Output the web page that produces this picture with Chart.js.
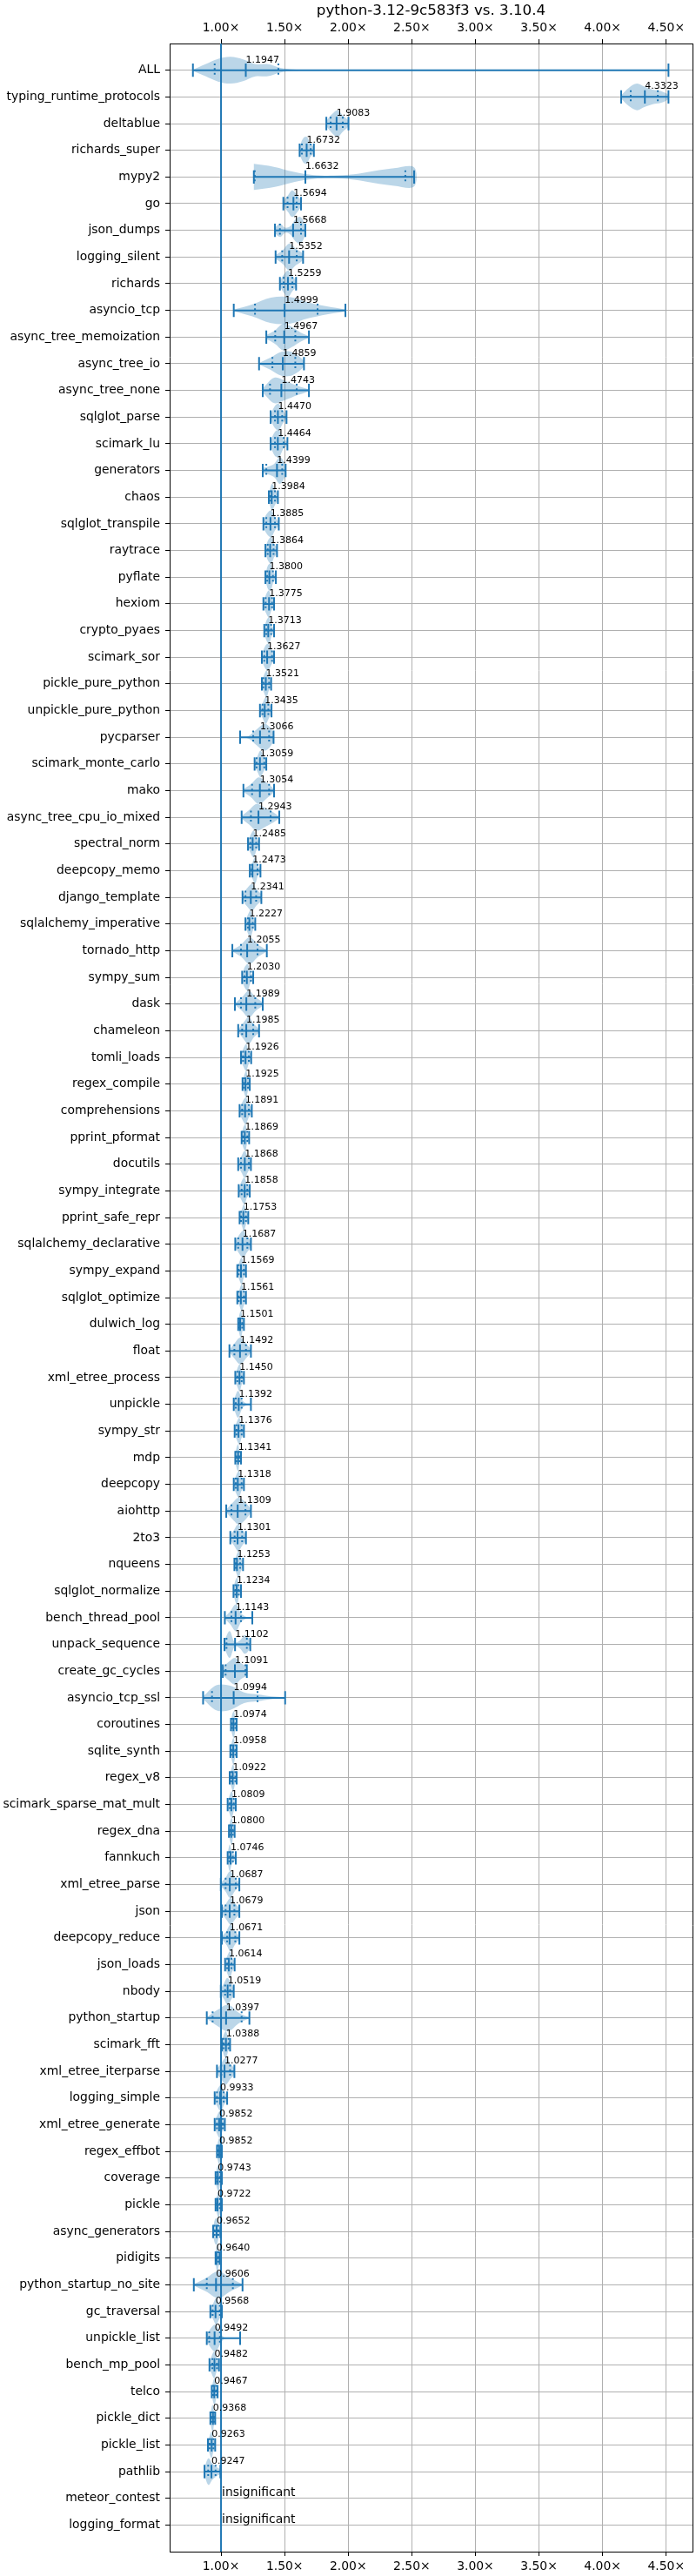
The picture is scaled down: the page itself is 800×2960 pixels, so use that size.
<!DOCTYPE html>
<html>
<head>
<meta charset="utf-8">
<script src="https://cdn.jsdelivr.net/npm/chart.js@4.4.1/dist/chart.umd.min.js"></script>
<style>
html, body { margin: 0; padding: 0; background: #fff; }
#wrap { width: 800px; height: 2960px; }
</style>
</head>
<body>
<div id="wrap"><canvas id="myChart" width="800" height="2960"></canvas></div>
<script>
var chartTitle = "python-3.12-9c583f3 vs. 3.10.4";
var insignificantLabel = "insignificant";
var xTickValues = [1.0, 1.5, 2.0, 2.5, 3.0, 3.5, 4.0, 4.5];
var xMin = 0.596, xMax = 4.707;

var benchNames = [
	"ALL", "typing_runtime_protocols", "deltablue", "richards_super", "mypy2", "go", "json_dumps",
	"logging_silent", "richards", "asyncio_tcp", "async_tree_memoization", "async_tree_io",
	"async_tree_none", "sqlglot_parse", "scimark_lu", "generators", "chaos", "sqlglot_transpile",
	"raytrace", "pyflate", "hexiom", "crypto_pyaes", "scimark_sor", "pickle_pure_python",
	"unpickle_pure_python", "pycparser", "scimark_monte_carlo", "mako", "async_tree_cpu_io_mixed",
	"spectral_norm", "deepcopy_memo", "django_template", "sqlalchemy_imperative", "tornado_http",
	"sympy_sum", "dask", "chameleon", "tomli_loads", "regex_compile", "comprehensions",
	"pprint_pformat", "docutils", "sympy_integrate", "pprint_safe_repr", "sqlalchemy_declarative",
	"sympy_expand", "sqlglot_optimize", "dulwich_log", "float", "xml_etree_process", "unpickle",
	"sympy_str", "mdp", "deepcopy", "aiohttp", "2to3", "nqueens", "sqlglot_normalize",
	"bench_thread_pool", "unpack_sequence", "create_gc_cycles", "asyncio_tcp_ssl", "coroutines",
	"sqlite_synth", "regex_v8", "scimark_sparse_mat_mult", "regex_dna", "fannkuch",
	"xml_etree_parse", "json", "deepcopy_reduce", "json_loads", "nbody", "python_startup",
	"scimark_fft", "xml_etree_iterparse", "logging_simple", "xml_etree_generate", "regex_effbot",
	"coverage", "pickle", "async_generators", "pidigits", "python_startup_no_site", "gc_traversal",
	"unpickle_list", "bench_mp_pool", "telco", "pickle_dict", "pickle_list", "pathlib",
	"meteor_contest", "logging_format"
];

var meanRatio = [
	1.1947, 4.3323, 1.9083, 1.6732, 1.6632, 1.5694, 1.5668, 1.5352, 1.5259, 1.4999,
	1.4967, 1.4859, 1.4743, 1.4470, 1.4464, 1.4399, 1.3984, 1.3885, 1.3864, 1.3800,
	1.3775, 1.3713, 1.3627, 1.3521, 1.3435, 1.3066, 1.3059, 1.3054, 1.2943, 1.2485,
	1.2473, 1.2341, 1.2227, 1.2055, 1.2030, 1.1989, 1.1985, 1.1926, 1.1925, 1.1891,
	1.1869, 1.1868, 1.1858, 1.1753, 1.1687, 1.1569, 1.1561, 1.1501, 1.1492, 1.1450,
	1.1392, 1.1376, 1.1341, 1.1318, 1.1309, 1.1301, 1.1253, 1.1234, 1.1143, 1.1102,
	1.1091, 1.0994, 1.0974, 1.0958, 1.0922, 1.0809, 1.0800, 1.0746, 1.0687, 1.0679,
	1.0671, 1.0614, 1.0519, 1.0397, 1.0388, 1.0277, 0.9933, 0.9852, 0.9852, 0.9743,
	0.9722, 0.9652, 0.9640, 0.9606, 0.9568, 0.9492, 0.9482, 0.9467, 0.9368, 0.9263,
	0.9247, null, null
];

var minRatio = [
	0.779, 4.146, 1.828, 1.618, 1.258, 1.490, 1.424, 1.429, 1.463, 1.100,
	1.356, 1.299, 1.328, 1.390, 1.390, 1.328, 1.376, 1.333, 1.349, 1.349,
	1.333, 1.340, 1.321, 1.321, 1.306, 1.150, 1.264, 1.176, 1.162, 1.212,
	1.226, 1.169, 1.192, 1.089, 1.166, 1.109, 1.135, 1.157, 1.169, 1.146,
	1.162, 1.135, 1.139, 1.146, 1.112, 1.128, 1.128, 1.135, 1.066, 1.112,
	1.100, 1.107, 1.112, 1.100, 1.041, 1.073, 1.105, 1.098, 1.030, 1.027,
	1.014, 0.859, 1.078, 1.073, 1.068, 1.052, 1.062, 1.052, 0.998, 1.007,
	1.007, 1.032, 0.998, 0.888, 1.007, 0.968, 0.950, 0.950, 0.968, 0.957,
	0.957, 0.938, 0.957, 0.786, 0.916, 0.888, 0.909, 0.927, 0.916, 0.897,
	0.870, null, null
];

var q1Ratio = [
	0.950, 4.221, 1.862, 1.636, 1.265, 1.523, 1.463, 1.481, 1.492, 1.267,
	1.426, 1.404, 1.385, 1.424, 1.424, 1.356, 1.390, 1.356, 1.367, 1.363,
	1.351, 1.356, 1.340, 1.333, 1.326, 1.253, 1.280, 1.244, 1.235, 1.230,
	1.242, 1.192, 1.212, 1.157, 1.185, 1.157, 1.166, 1.173, 1.180, 1.166,
	1.173, 1.157, 1.162, 1.157, 1.135, 1.139, 1.139, 1.144, 1.105, 1.128,
	1.116, 1.121, 1.121, 1.116, 1.082, 1.107, 1.116, 1.112, 1.082, 1.043,
	1.036, 0.929, 1.087, 1.082, 1.082, 1.068, 1.071, 1.064, 1.036, 1.036,
	1.048, 1.048, 1.032, 0.934, 1.021, 1.002, 0.968, 0.968, 0.975, 0.968,
	0.968, 0.950, 0.961, 0.888, 0.934, 0.907, 0.932, 0.938, 0.925, 0.910,
	0.899, null, null
];

var q3Ratio = [
	1.451, 4.434, 1.957, 1.705, 2.449, 1.594, 1.629, 1.595, 1.561, 1.759,
	1.584, 1.584, 1.595, 1.481, 1.492, 1.481, 1.424, 1.424, 1.413, 1.408,
	1.401, 1.394, 1.401, 1.378, 1.372, 1.378, 1.340, 1.378, 1.390, 1.276,
	1.287, 1.276, 1.249, 1.287, 1.235, 1.269, 1.253, 1.219, 1.212, 1.219,
	1.207, 1.219, 1.207, 1.196, 1.207, 1.180, 1.180, 1.166, 1.196, 1.162,
	1.162, 1.162, 1.144, 1.162, 1.192, 1.166, 1.150, 1.139, 1.157, 1.203,
	1.192, 1.287, 1.112, 1.112, 1.112, 1.100, 1.093, 1.093, 1.116, 1.105,
	1.112, 1.082, 1.071, 1.162, 1.059, 1.071, 1.021, 1.014, 0.998, 0.991,
	0.991, 0.979, 0.979, 1.093, 0.991, 0.991, 0.968, 0.961, 0.945, 0.940,
	0.957, null, null
];

var maxRatio = [
	4.518, 4.518, 2.002, 1.730, 2.518, 1.629, 1.663, 1.645, 1.590, 1.978,
	1.691, 1.652, 1.691, 1.515, 1.522, 1.508, 1.447, 1.454, 1.440, 1.431,
	1.417, 1.417, 1.417, 1.394, 1.397, 1.413, 1.356, 1.417, 1.458, 1.299,
	1.310, 1.317, 1.269, 1.360, 1.253, 1.328, 1.299, 1.237, 1.226, 1.242,
	1.221, 1.235, 1.226, 1.214, 1.235, 1.196, 1.196, 1.180, 1.235, 1.180,
	1.235, 1.180, 1.157, 1.180, 1.235, 1.196, 1.173, 1.157, 1.246, 1.230,
	1.203, 1.504, 1.123, 1.123, 1.123, 1.116, 1.107, 1.116, 1.144, 1.144,
	1.144, 1.107, 1.100, 1.223, 1.071, 1.105, 1.048, 1.030, 1.007, 1.007,
	1.007, 0.995, 0.989, 1.169, 1.007, 1.150, 0.984, 0.973, 0.954, 0.954,
	0.995, null, null
];

// relative violin width, sampled evenly from min to max of each benchmark
var density = [
	[0.03, 0.45, 0.85, 1.0, 0.82, 0.46, 0.45, 0.17, 0.06, 0.04,
	 0.03, 0.025, 0.025, 0.02, 0.02, 0.02, 0.02, 0.02, 0.02, 0.02,
	 0.02, 0.015, 0.015, 0.015, 0.015, 0.015, 0.015, 0.015, 0.015, 0.015,
	 0.015, 0.015, 0.015, 0.015, 0.015, 0.02, 0.02, 0.015, 0.01],
	[0.12, 0.7, 1.0, 0.75, 0.55, 0.45, 0.15],
	[0.2, 0.7, 1.0, 0.6, 0.2],
	[0.3, 0.9, 1.0, 0.5, 0.2],
	[0.98, 0.76, 0.38, 0.14, 0.1, 0.2, 0.45, 0.66, 0.72],
	[0.2, 0.6, 1.0, 0.7, 0.2],
	[0.2, 0.5, 0.2, 0.3, 0.8, 1.0, 0.3],
	[0.15, 0.5, 1.0, 0.6, 0.2],
	[0.2, 0.7, 1.0, 0.6, 0.2],
	[0.05, 0.45, 0.95, 1.0, 0.6, 0.3, 0.05],
	[0.15, 0.5, 1.0, 0.75, 0.35, 0.05],
	[0.05, 0.45, 0.9, 0.85, 0.2],
	[0.15, 0.95, 0.7, 0.35, 0.05],
	[0.2, 0.8, 1.0, 0.5, 0.1],
	[0.2, 0.9, 1.0, 0.4, 0.1],
	[0.2, 0.3, 0.5, 1.0, 0.3],
	[0.2, 1.0, 0.6, 0.2],
	[0.3, 0.8, 1.0, 0.5, 0.1],
	[0.2, 0.8, 1.0, 0.5, 0.2],
	[0.2, 0.9, 1.0, 0.4, 0.1],
	[0.2, 0.7, 1.0, 0.5, 0.2],
	[0.2, 0.8, 1.0, 0.4, 0.1],
	[0.2, 0.8, 1.0, 0.6, 0.2],
	[0.2, 0.7, 1.0, 0.5, 0.2],
	[0.2, 0.6, 1.0, 0.6, 0.2],
	[0.02, 0.1, 0.6, 1.0, 0.3],
	[0.2, 0.6, 1.0, 0.6, 0.2],
	[0.1, 0.5, 1.0, 0.6, 0.1],
	[0.1, 0.55, 1.0, 0.75, 0.45, 0.05],
	[0.2, 0.7, 1.0, 0.5, 0.1],
	[0.1, 0.6, 1.0, 0.4, 0.1],
	[0.2, 0.7, 1.0, 0.6, 0.2],
	[0.2, 0.7, 1.0, 0.5, 0.1],
	[0.05, 0.45, 1.0, 0.45, 0.03],
	[0.2, 0.8, 1.0, 0.4, 0.1],
	[0.05, 0.5, 1.0, 0.5, 0.1],
	[0.1, 0.6, 1.0, 0.5, 0.1],
	[0.2, 0.7, 1.0, 0.5, 0.2],
	[0.2, 0.7, 1.0, 0.5, 0.2],
	[0.2, 0.7, 1.0, 0.5, 0.2],
	[0.2, 0.8, 1.0, 0.4, 0.2],
	[0.2, 0.6, 1.0, 0.6, 0.2],
	[0.2, 0.7, 1.0, 0.5, 0.2],
	[0.2, 0.6, 1.0, 0.5, 0.2],
	[0.2, 0.7, 1.0, 0.6, 0.2],
	[0.2, 0.7, 1.0, 0.5, 0.2],
	[0.2, 0.6, 1.0, 0.6, 0.2],
	[0.2, 0.8, 1.0, 0.5, 0.2],
	[0.1, 0.6, 1.0, 0.6, 0.1],
	[0.2, 0.7, 1.0, 0.5, 0.2],
	[0.3, 1.0, 0.3, 0.05, 0.02],
	[0.2, 0.7, 1.0, 0.5, 0.2],
	[0.2, 0.8, 1.0, 0.4, 0.2],
	[0.2, 0.7, 1.0, 0.5, 0.2],
	[0.1, 0.6, 1.0, 0.7, 0.1],
	[0.2, 0.6, 1.0, 0.6, 0.2],
	[0.2, 0.7, 1.0, 0.5, 0.2],
	[0.2, 0.8, 1.0, 0.4, 0.2],
	[0.05, 0.5, 1.0, 0.3, 0.05, 0.02],
	[0.3, 1.0, 0.15, 0.3, 0.7, 0.2],
	[0.3, 0.7, 1.0, 0.6, 0.3],
	[0.1, 0.95, 0.9, 0.4, 0.25, 0.1, 0.02],
	[0.2, 0.8, 1.0, 0.5, 0.2],
	[0.2, 0.7, 1.0, 0.5, 0.2],
	[0.2, 0.7, 1.0, 0.5, 0.2],
	[0.2, 0.7, 1.0, 0.5, 0.2],
	[0.2, 0.8, 1.0, 0.4, 0.2],
	[0.3, 1.0, 0.5, 0.3, 0.1],
	[0.1, 0.5, 1.0, 0.5, 0.1],
	[0.2, 0.6, 1.0, 0.6, 0.2],
	[0.1, 0.5, 1.0, 0.5, 0.1],
	[0.2, 0.7, 1.0, 0.5, 0.2],
	[0.2, 0.6, 1.0, 0.7, 0.2],
	[0.05, 0.6, 1.0, 0.4, 0.02],
	[0.2, 0.8, 1.0, 0.5, 0.2],
	[0.2, 0.6, 1.0, 0.6, 0.2],
	[0.2, 0.7, 1.0, 0.5, 0.2],
	[0.2, 0.7, 1.0, 0.5, 0.2],
	[0.2, 0.8, 1.0, 0.4, 0.2],
	[0.2, 0.8, 1.0, 0.4, 0.2],
	[0.2, 0.7, 1.0, 0.5, 0.2],
	[0.3, 0.9, 1.0, 0.5, 0.2],
	[0.3, 0.9, 1.0, 0.6, 0.3],
	[0.05, 0.5, 1.0, 0.5, 0.03],
	[0.2, 0.6, 1.0, 0.6, 0.2],
	[0.3, 1.0, 0.1, 0.02, 0.01],
	[0.2, 0.7, 1.0, 0.5, 0.2],
	[0.2, 0.8, 1.0, 0.5, 0.2],
	[0.2, 0.8, 1.0, 0.5, 0.2],
	[0.2, 0.7, 1.0, 0.5, 0.2],
	[0.3, 1.0, 0.6, 0.35, 0.15],
	[],
	[]
];

var blue = "#1f77b4";
var violinFill = "rgba(31,119,180,0.3)";
var fontFamily = "'DejaVu Sans', sans-serif";
Chart.defaults.font.family = fontFamily;
Chart.defaults.color = "#000";

var datasets = [];
var barPts = [];
var quartPts = [];

for (var i = 0; i < benchNames.length; i++) {
	var pos = i + 1;
	if (meanRatio[i] === null) continue;
	var lo = minRatio[i], hi = maxRatio[i];
	var d = density[i];
	var upper = [], lower = [];
	for (var k = 0; k < d.length; k++) {
		var xv = lo + (hi - lo) * k / (d.length - 1);
		upper.push({x: xv, y: pos - 0.5 * d[k]});
		lower.unshift({x: xv, y: pos + 0.5 * d[k]});
	}
	datasets.push({
		data: upper.concat(lower),
		fill: "shape",
		backgroundColor: violinFill,
		borderWidth: 0,
		borderColor: "rgba(0,0,0,0)",
		pointRadius: 0,
		tension: 0.35,
		order: 3
	});

	barPts.push({x: lo, y: pos}, {x: hi, y: pos}, {x: hi, y: null});
	[lo, meanRatio[i], hi].forEach(function(v) {
		barPts.push({x: v, y: pos - 0.25}, {x: v, y: pos + 0.25}, {x: v, y: null});
	});
	[q1Ratio[i], q3Ratio[i]].forEach(function(v) {
		quartPts.push({x: v, y: pos - 0.25}, {x: v, y: pos + 0.25}, {x: v, y: null});
	});
}

datasets.push({
	data: barPts, borderColor: blue, borderWidth: 2, pointRadius: 0,
	fill: false, tension: 0, spanGaps: false, order: 1
});
datasets.push({
	data: quartPts, borderColor: blue, borderWidth: 2, borderDash: [2, 3.3], pointRadius: 0,
	fill: false, tension: 0, spanGaps: false, order: 1
});
datasets.push({
	data: [{x: 1.0, y: 0}, {x: 1.0, y: benchNames.length + 1}],
	borderColor: blue, borderWidth: 2, pointRadius: 0, fill: false, order: 2
});

var valueLabels = {
	id: "valueLabels",
	afterDatasetsDraw: function(chart) {
		var ctx = chart.ctx;
		var xs = chart.scales.x, ys = chart.scales.y;
		ctx.save();
		ctx.fillStyle = "#000";
		ctx.textAlign = "left";
		ctx.textBaseline = "alphabetic";
		for (var i = 0; i < benchNames.length; i++) {
			var py = ys.getPixelForValue(i + 1);
			if (meanRatio[i] === null) {
				ctx.font = "13.9px " + fontFamily;
				ctx.fillText(insignificantLabel, xs.getPixelForValue(1.0) + 1, py - 2.5);
			} else {
				ctx.font = "11px " + fontFamily;
				ctx.fillText(meanRatio[i].toFixed(4), xs.getPixelForValue(meanRatio[i]), py - 9);
			}
		}
		ctx.restore();
	}
};

var tickFont = {family: fontFamily, size: 13.9};
var gridOpts = {color: "#b0b0b0", lineWidth: 1, tickColor: "#000", tickLength: 5, tickWidth: 1};
var borderOpts = {display: true, color: "#000", width: 1};

function xTicks(scale) {
	scale.ticks = xTickValues.map(function(v) { return {value: v}; });
}

var ctx = document.getElementById("myChart");
var myChart = new Chart(ctx, {
	type: "line",
	data: {datasets: datasets},
	plugins: [valueLabels],
	options: {
		responsive: false,
		animation: false,
		layout: {padding: 0},
		plugins: {
			legend: {display: false},
			tooltip: {enabled: false},
			title: {
				display: true,
				text: chartTitle,
				fullSize: false,
				color: "#000",
				font: {family: fontFamily, size: 16.7, weight: "normal"},
				padding: {top: 3, bottom: 3}
			}
		},
		scales: {
			x: {
				type: "linear", position: "bottom", min: xMin, max: xMax,
				afterBuildTicks: xTicks,
				afterFit: function(s) { s.height = 28; },
				ticks: {
					font: tickFont, color: "#000", padding: 4, maxRotation: 0, autoSkip: false,
					callback: function(v) { return v.toFixed(2) + "\u00d7"; }
				},
				grid: gridOpts,
				border: borderOpts
			},
			xTop: {
				type: "linear", position: "top", min: xMin, max: xMax,
				afterBuildTicks: xTicks,
				afterFit: function(s) { s.height = 24; },
				ticks: {
					font: tickFont, color: "#000", padding: 4, maxRotation: 0, autoSkip: false,
					callback: function(v) { return v.toFixed(2) + "\u00d7"; }
				},
				grid: Object.assign({}, gridOpts, {drawOnChartArea: false}),
				border: borderOpts
			},
			y: {
				type: "linear", position: "left", reverse: true, min: 0, max: benchNames.length + 1,
				afterBuildTicks: function(s) {
					s.ticks = benchNames.map(function(n, i) { return {value: i + 1}; });
				},
				afterFit: function(s) { s.width = 195; },
				ticks: {
					font: tickFont, color: "#000", padding: 6, autoSkip: false,
					callback: function(v) { return benchNames[Math.round(v) - 1]; }
				},
				grid: gridOpts,
				border: borderOpts
			},
			yRight: {
				type: "linear", position: "right", min: 0, max: benchNames.length + 1,
				afterFit: function(s) { s.width = 4; },
				ticks: {display: false},
				grid: {drawOnChartArea: false, drawTicks: false},
				border: borderOpts
			}
		}
	}
});
</script>
</body>
</html>
